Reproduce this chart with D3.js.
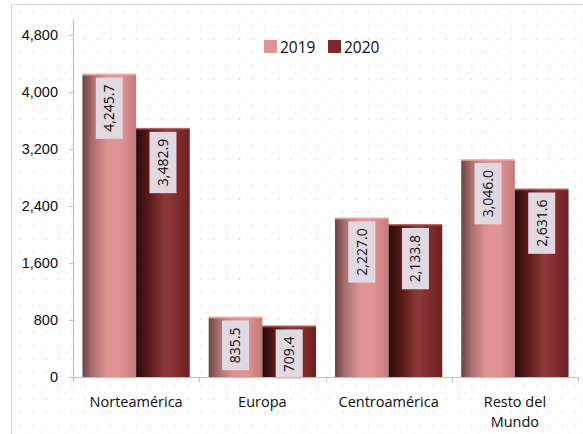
<!DOCTYPE html>
<html>
<head>
<meta charset="utf-8">
<script src="https://cdn.jsdelivr.net/npm/d3@7"></script>
<style>
  body { margin: 0; background: #fff; }
  svg { display: block; font-family: "Open Sans", "Noto Sans", sans-serif; }
</style>
</head>
<body>
<div id="chart"></div>
<script>
// datos
var regiones = ["Norteamérica", "Europa", "Centroamérica", "Resto del Mundo"];
var anios = ["2019", "2020"];
var valores2019 = [4245.7, 835.5, 2227.0, 3046.0];
var valores2020 = [3482.9, 709.4, 2133.8, 2631.6];
var ticksY = [0, 800, 1600, 2400, 3200, 4000, 4800];

var width = 583, height = 434;
var margin = { top: 35, right: 5, bottom: 57, left: 73 };

var svg = d3.select("#chart").append("svg")
    .attr("width", width)
    .attr("height", height);

var defs = svg.append("defs");

// fondo de puntos
var pat = defs.append("pattern")
    .attr("id", "dots")
    .attr("patternUnits", "userSpaceOnUse")
    .attr("x", 504 % 12.9).attr("y", 5.7)
    .attr("width", 12.9).attr("height", 13.33);
pat.append("rect").attr("x", -0.6).attr("y", -0.6).attr("width", 1.3).attr("height", 1.3).attr("fill", "#cccccc");
pat.append("rect").attr("x", 5.85).attr("y", 6.07).attr("width", 1.3).attr("height", 1.3).attr("fill", "#cccccc");

svg.append("rect")
    .attr("x", 11.5).attr("y", 4.5)
    .attr("width", 600).attr("height", 500)
    .attr("fill", "url(#dots)")
    .attr("stroke", "#d4d4d4");

// gradientes tipo cilindro
function gradiente(id, stops) {
    var g = defs.append("linearGradient").attr("id", id)
        .attr("x1", "0%").attr("x2", "100%").attr("y1", "0%").attr("y2", "0%");
    g.selectAll("stop").data(stops).enter().append("stop")
        .attr("offset", function (d) { return d[0]; })
        .attr("stop-color", function (d) { return d[1]; });
}
gradiente("g2019", [["0%", "#6a4444"], ["18%", "#a66e6e"], ["45%", "#de9292"], ["70%", "#e29494"], ["100%", "#c47b7b"]]);
gradiente("g2020", [["0%", "#2c0b0b"], ["25%", "#5c1a1a"], ["55%", "#8d3a3a"], ["80%", "#7f2a2a"], ["100%", "#6e2020"]]);

var x0 = d3.scaleBand()
    .domain(regiones)
    .range([margin.left, width - margin.right])
    .paddingInner(0.15)
    .paddingOuter(0.075);

var x1 = d3.scaleBand()
    .domain(anios)
    .range([0, x0.bandwidth()]);

var y = d3.scaleLinear()
    .domain([0, 4800])
    .range([height - margin.bottom, margin.top]);

// eje y
var yAxis = svg.append("g")
    .attr("transform", "translate(" + margin.left + ",0)")
    .call(d3.axisLeft(y).tickValues(ticksY).tickFormat(d3.format(",")).tickSize(4).tickPadding(11));
yAxis.select(".domain").attr("d", "M0.5," + 19 + "V" + (y(0) + 0.5)).attr("stroke", "#bfbfbf");
yAxis.selectAll(".tick line").attr("stroke", "#bfbfbf");
yAxis.selectAll("text").attr("font-size", 14.5).attr("fill", "#0d0d0d");

// barras
var series = [valores2019, valores2020];
var grupos = svg.selectAll(".grupo")
    .data(regiones)
    .enter().append("g")
    .attr("class", "grupo")
    .attr("transform", function (d) { return "translate(" + x0(d) + ",0)"; });

anios.forEach(function (anio, k) {
    grupos.append("rect")
        .attr("x", x1(anio))
        .attr("y", function (d, i) { return y(series[k][i]); })
        .attr("width", x1.bandwidth())
        .attr("height", function (d, i) { return y(0) - y(series[k][i]); })
        .attr("fill", "url(#g" + anio + ")");
    // borde superior claro
    grupos.append("rect")
        .attr("x", x1(anio))
        .attr("y", function (d, i) { return y(series[k][i]) - 1; })
        .attr("width", x1.bandwidth())
        .attr("height", 2)
        .attr("fill", k === 0 ? "#eaa8a8" : "#a04848")
        .attr("opacity", 0.8);
});

// eje x
var xAxis = svg.append("g")
    .attr("transform", "translate(0," + y(0) + ")");
xAxis.append("path")
    .attr("d", "M" + margin.left + ",0.5H" + (width - margin.right))
    .attr("stroke", "#bfbfbf");
var limites = regiones.map(function (d) { return x0(d) - x0.step() * x0.paddingInner() / 2; });
limites.push(width - margin.right);
xAxis.selectAll(".lim").data(limites).enter().append("line")
    .attr("x1", function (d) { return Math.round(d) + 0.5; })
    .attr("x2", function (d) { return Math.round(d) + 0.5; })
    .attr("y1", 0).attr("y2", 5)
    .attr("stroke", "#bfbfbf");

var etiquetasX = svg.selectAll(".cat")
    .data(regiones)
    .enter().append("text")
    .attr("text-anchor", "middle")
    .attr("font-size", 14.5)
    .attr("fill", "#0d0d0d")
    .attr("x", function (d) { return x0(d) + x0.bandwidth() / 2; });
etiquetasX.each(function (d) {
    var t = d3.select(this);
    var lineas = d === "Resto del Mundo" ? ["Resto del", "Mundo"] : [d];
    lineas.forEach(function (l, j) {
        t.append("tspan")
            .attr("x", x0(d) + x0.bandwidth() / 2)
            .attr("y", 407 + j * 20)
            .text(l);
    });
});

// etiquetas de valores
var fmt = d3.format(",.1f");
anios.forEach(function (anio, k) {
    grupos.each(function (d, i) {
        var g = d3.select(this);
        var v = series[k][i];
        var cx = x1(anio) + x1.bandwidth() / 2;
        var top = y(v) + 3;
        var lbl = g.append("g").attr("transform", "translate(" + cx + "," + top + ") rotate(-90)");
        var txt = lbl.append("text")
            .attr("text-anchor", "end")
            .attr("dy", "0.35em")
            .attr("x", -7)
            .attr("font-size", 14)
            .attr("fill", "#0d0d0d")
            .text(fmt(v));
        var len = txt.node().getComputedTextLength();
        lbl.insert("rect", "text")
            .attr("x", -len - 14)
            .attr("y", -13.5)
            .attr("width", len + 14)
            .attr("height", 27)
            .attr("fill", "#e1d8e1");
    });
});

// leyenda
var leyenda = svg.append("g").attr("transform", "translate(264,40)");
var colores = ["#e09393", "#7b2a2a"];
var posL = [0, 64];
anios.forEach(function (anio, k) {
    leyenda.append("rect")
        .attr("x", posL[k]).attr("y", 0)
        .attr("width", 13).attr("height", 13)
        .attr("fill", colores[k]);
    leyenda.append("text")
        .attr("x", posL[k] + 16).attr("y", 12.5)
        .attr("font-size", 15.5)
        .attr("fill", "#0d0d0d")
        .text(anio);
});
</script>
</body>
</html>
